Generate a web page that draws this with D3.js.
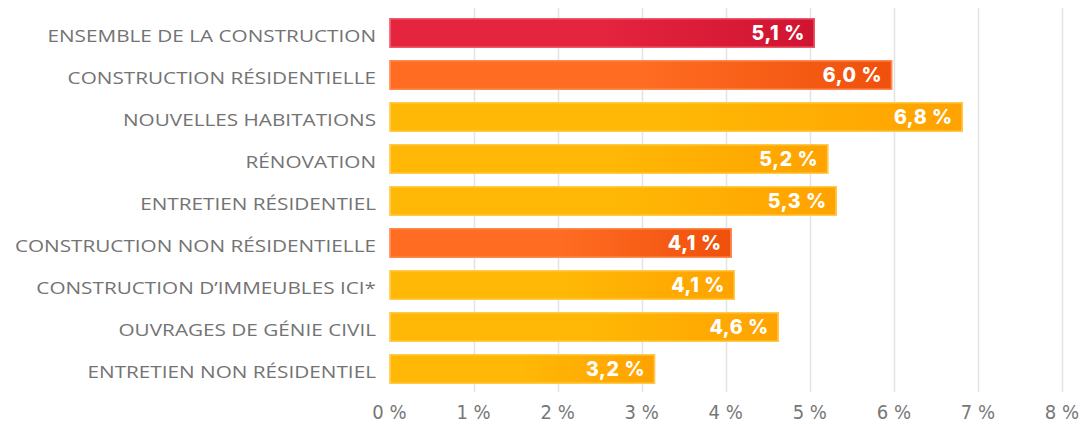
<!DOCTYPE html>
<html><head><meta charset="utf-8">
<script src="https://cdn.jsdelivr.net/npm/d3@7"></script>
<style>body{margin:0;background:#fff}svg{display:block}</style>
</head><body>
<svg id="c" width="1085" height="424"></svg>
<script>
const categories = ["ENSEMBLE DE LA CONSTRUCTION","CONSTRUCTION RÉSIDENTIELLE","NOUVELLES HABITATIONS","RÉNOVATION","ENTRETIEN RÉSIDENTIEL","CONSTRUCTION NON RÉSIDENTIELLE","CONSTRUCTION D’IMMEUBLES ICI*","OUVRAGES DE GÉNIE CIVIL","ENTRETIEN NON RÉSIDENTIEL"];
const values = [5.06,5.98,6.82,5.22,5.32,4.07,4.11,4.63,3.16];
const valueLabels = ["5,1 %","6,0 %","6,8 %","5,2 %","5,3 %","4,1 %","4,1 %","4,6 %","3,2 %"];
const colorGroups = ["red","orange","yellow","yellow","yellow","orange","yellow","yellow","yellow"];
const xTicks = [0,1,2,3,4,5,6,7,8];
const tickLabels = ["0 %","1 %","2 %","3 %","4 %","5 %","6 %","7 %","8 %"];

const palette = {
  red:{a:"#e5243e",b:"#cf1431",s:"#ee5a6c"},
  orange:{a:"#ff6c22",b:"#ef500b",s:"#ff8a4f"},
  yellow:{a:"#ffb805",b:"#ffa200",s:"#ffc94a"}
};

const svg = d3.select("#c");
const x = d3.scaleLinear().domain([0,8]).range([389.5,1062]);
const y = d3.scaleBand().domain(categories).range([12,390]).paddingInner(0.286).paddingOuter(0.143);

const defs = svg.append("defs");
Object.entries(palette).forEach(([k,p])=>{
  const g = defs.append("linearGradient").attr("id","g-"+k).attr("x1","0").attr("x2","1").attr("y1","0").attr("y2","0");
  g.append("stop").attr("offset","0").attr("stop-color",p.a);
  g.append("stop").attr("offset","0.5").attr("stop-color",p.a);
  g.append("stop").attr("offset","1").attr("stop-color",p.b);
});

// grid
svg.append("g").selectAll("line").data(xTicks.slice(1)).join("line")
  .attr("x1",d=>Math.round(x(d))+0.5).attr("x2",d=>Math.round(x(d))+0.5)
  .attr("y1",8).attr("y2",392).attr("stroke","#e3e3e3").attr("stroke-width",1.5);

// bars
const bars = svg.append("g").selectAll("g").data(categories).join("g");
bars.append("rect")
  .attr("x",x(0)).attr("y",d=>y(d))
  .attr("width",(d,i)=>x(values[i])-x(0)).attr("height",y.bandwidth())
  .attr("fill",(d,i)=>`url(#g-${colorGroups[i]})`);
bars.append("rect")
  .attr("x",x(0)+0.75).attr("y",d=>y(d)+0.75)
  .attr("width",(d,i)=>x(values[i])-x(0)-1.5).attr("height",y.bandwidth()-1.5)
  .attr("fill","none").attr("stroke",(d,i)=>palette[colorGroups[i]].s).attr("stroke-width",1.5);

bars.append("text")
  .attr("x",(d,i)=>x(values[i])-10).attr("y",d=>y(d)+y.bandwidth()/2)
  .attr("dy","0.37em").attr("text-anchor","end")
  .attr("font-family","Inter, 'Open Sans', sans-serif").attr("font-weight",800).attr("font-size",19.5)
  .attr("letter-spacing",0.6)
  .attr("fill","#fff").text((d,i)=>valueLabels[i]);

// category labels (horizontally widened to mimic a wide geometric face)
svg.append("g").attr("transform","translate(376,0) scale(1.22,1)")
  .selectAll("text").data(categories).join("text")
  .attr("x",0).attr("y",d=>y(d)+y.bandwidth()/2).attr("dy","0.52em").attr("text-anchor","end")
  .attr("font-family","'Open Sans', sans-serif").attr("font-weight",400).attr("font-size",17).attr("fill","#737373")
  .text(d=>d);

// x axis labels
svg.append("g").selectAll("text").data(xTicks).join("text")
  .attr("x",d=>x(d)).attr("y",412).attr("dy","0.36em").attr("text-anchor","middle")
  .attr("font-family","'DejaVu Sans Condensed','Open Sans', sans-serif").attr("font-weight",300).attr("font-size",20).attr("fill","#777")
  .text((d,i)=>tickLabels[i]);
</script>
</body></html>
